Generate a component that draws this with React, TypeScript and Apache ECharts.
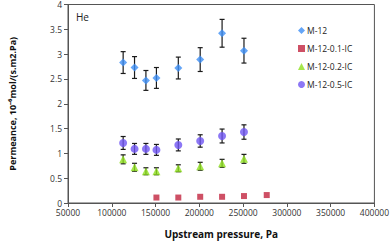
import React, { useEffect, useRef } from "react";
import * as echarts from "echarts";

const xM12 = [113000, 126000, 139000, 151000, 176000, 201000, 226000, 251000];
const m12 = [2.83, 2.73, 2.47, 2.52, 2.72, 2.89, 3.42, 3.07];
const m12Err = [0.22, 0.22, 0.2, 0.21, 0.22, 0.24, 0.28, 0.25];

const xIC01 = [151000, 176000, 201000, 226000, 251000, 277000];
const ic01 = [0.11, 0.11, 0.125, 0.125, 0.14, 0.16];

const xIC02 = [113000, 126000, 139000, 151000, 176000, 201000, 226000, 251000];
const ic02 = [0.88, 0.72, 0.64, 0.64, 0.7, 0.74, 0.8, 0.89];
const ic02Err = [0.09, 0.08, 0.07, 0.07, 0.07, 0.08, 0.08, 0.09];

const xIC05 = [113000, 126000, 139000, 151000, 176000, 201000, 226000, 251000];
const ic05 = [1.21, 1.09, 1.09, 1.07, 1.17, 1.25, 1.35, 1.43];
const ic05Err = [0.13, 0.11, 0.11, 0.11, 0.12, 0.125, 0.14, 0.145];

const xTicks = [50000, 100000, 150000, 200000, 250000, 300000, 350000, 400000];
const yTicks = [0, 0.5, 1, 1.5, 2, 2.5, 3, 3.5, 4];

const FONT = "'Open Sans', 'Liberation Sans', sans-serif";

function errSeries(xs: number[], ys: number[], es: number[]) {
  return {
    type: "custom",
    silent: true,
    z: 1,
    data: xs.map((x, i) => [x, ys[i] - es[i], ys[i] + es[i]]),
    renderItem: (params: any, api: any) => {
      const lo = api.coord([api.value(0), api.value(1)]);
      const hi = api.coord([api.value(0), api.value(2)]);
      const w = 2.5;
      const st = { stroke: "#1a1a1a", lineWidth: 1.2 };
      return {
        type: "group",
        children: [
          { type: "line", shape: { x1: lo[0], y1: lo[1], x2: hi[0], y2: hi[1] }, style: st },
          { type: "line", shape: { x1: lo[0] - w, y1: lo[1], x2: lo[0] + w, y2: lo[1] }, style: st },
          { type: "line", shape: { x1: hi[0] - w, y1: hi[1], x2: hi[0] + w, y2: hi[1] }, style: st },
        ],
      };
    },
  };
}

export default function App() {
  const ref = useRef<HTMLDivElement>(null);
  useEffect(() => {
    document.body.style.margin = "0";
    const chart = echarts.init(ref.current!, null, { renderer: "svg" });
    chart.setOption({
      animation: false,
      textStyle: { fontFamily: FONT },
      grid: {
        left: 68,
        right: 17,
        top: 4,
        bottom: 39,
        show: true,
        borderColor: "#555",
        borderWidth: 1,
        backgroundColor: "transparent",
      },
      xAxis: {
        type: "value",
        min: 50000,
        max: 400000,
        interval: 50000,
        name: "Upstream pressure, Pa",
        nameLocation: "middle",
        nameGap: 26,
        nameTextStyle: { fontSize: 10, fontWeight: "bold", color: "#111", fontFamily: FONT },
        axisLine: { show: true, lineStyle: { color: "#555" } },
        axisTick: { show: true, inside: false, length: 4, lineStyle: { color: "#555" } },
        splitLine: { show: false },
        axisLabel: {
          fontSize: 8.5,
          color: "#333",
          margin: 5,
          formatter: (v: number) => (xTicks.includes(v) ? String(v) : ""),
        },
      },
      yAxis: {
        type: "value",
        min: 0,
        max: 4,
        interval: 0.5,
        name: "Permeance, 10\u207B\u2076mol/(s.m2.Pa)",
        nameLocation: "middle",
        nameRotate: 90,
        nameGap: 51,
        nameTextStyle: { fontSize: 9, fontWeight: "bold", color: "#111", fontFamily: FONT },
        axisLine: { show: true, lineStyle: { color: "#555" } },
        axisTick: { show: true, inside: false, length: 4, lineStyle: { color: "#555" } },
        splitLine: { show: false },
        axisLabel: {
          fontSize: 8.5,
          color: "#333",
          margin: 6,
          formatter: (v: number) => (yTicks.includes(v) ? String(v) : ""),
        },
      },
      legend: {
        orient: "vertical",
        left: 293,
        top: 21,
        itemGap: 9,
        itemWidth: 7,
        itemHeight: 7,
        textStyle: { fontSize: 8.5, color: "#222", fontFamily: FONT, padding: [0, 0, 0, -3] },
        data: [
          { name: "M-12", icon: "diamond" },
          { name: "M-12-0.1-IC", icon: "rect" },
          { name: "M-12-0.2-IC", icon: "triangle" },
          { name: "M-12-0.5-IC", icon: "circle" },
        ],
      },
      graphic: [
        {
          type: "text",
          left: 76,
          top: 12,
          style: { text: "He", fontSize: 10, fill: "#222", fontFamily: FONT },
        },
      ],
      series: [
        errSeries(xM12, m12, m12Err),
        errSeries(xIC02, ic02, ic02Err),
        errSeries(xIC05, ic05, ic05Err),
        {
          name: "M-12",
          type: "scatter",
          symbol: "diamond",
          symbolSize: 8,
          z: 3,
          itemStyle: { color: "#3d8ff5" },
          data: xM12.map((x, i) => [x, m12[i]]),
        },
        {
          name: "M-12-0.1-IC",
          type: "scatter",
          symbol: "rect",
          symbolSize: 6,
          z: 3,
          itemStyle: { color: "#c2243f" },
          data: xIC01.map((x, i) => [x, ic01[i]]),
        },
        {
          name: "M-12-0.2-IC",
          type: "scatter",
          symbol: "triangle",
          symbolSize: 8,
          z: 3,
          itemStyle: { color: "#8ee01e" },
          data: xIC02.map((x, i) => [x, ic02[i]]),
        },
        {
          name: "M-12-0.5-IC",
          type: "scatter",
          symbol: "circle",
          symbolSize: 8,
          z: 3,
          itemStyle: { color: "#6f55f2" },
          data: xIC05.map((x, i) => [x, ic05[i]]),
        },
      ],
    });
    return () => chart.dispose();
  }, []);
  return <div ref={ref} style={{ width: 392, height: 244 }} />;
}
